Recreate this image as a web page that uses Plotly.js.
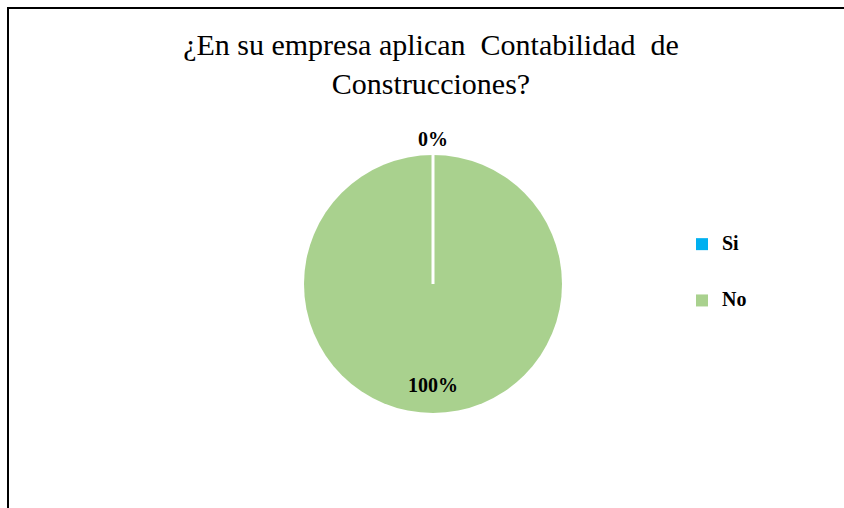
<!DOCTYPE html>
<html>
<head>
<meta charset="utf-8">
<script src="https://cdn.plot.ly/plotly-3.0.1.min.js"></script>
<style>
  body { margin: 0; background: #fff; }
  #wrap { position: relative; width: 844px; height: 508px; overflow: hidden; }
  #graph { width: 844px; height: 508px; }
  #frame { position: absolute; left: 7px; top: 7px; width: 900px; height: 600px;
           border-left: 2px solid #000; border-top: 2px solid #000; pointer-events: none; }
</style>
</head>
<body>
<div id="wrap">
  <div id="graph"></div>
  <div id="frame"></div>
</div>
<script>
var categories = ['Si', 'No'];
var percents = [0, 100];
var sliceColors = ['#00B0F0', '#A9D18E'];
var chartTitle = '¿En su empresa aplican  Contabilidad  de<br>Construcciones?';

function plot() {
    var graphDocument = document.getElementById('graph');
    var W = 844, H = 508;

    // pie placement in pixels
    var cx = 433, cy = 284, r = 129;
    var domain = {
        x: [(cx - r) / W, (cx + r) / W],
        y: [(H - cy - r) / H, (H - cy + r) / H],
    };

    var total = percents.reduce((a, b) => a + b, 0);

    // percent labels at the middle angle of each slice (clockwise from 12 o'clock)
    var annotations = [];
    var cum = 0;
    percents.forEach((v, i) => {
        var frac = v / total;
        var mid = (cum + frac / 2) * 2 * Math.PI;
        var rho = frac > 0 ? 0.78 * r : r + 16;
        annotations.push({
            xref: 'paper', yref: 'paper',
            x: (cx + rho * Math.sin(mid)) / W,
            y: (H - cy + rho * Math.cos(mid)) / H,
            text: Math.round(frac * 100) + '%',
            showarrow: false,
            xanchor: 'center', yanchor: 'middle',
            font: {family: 'Liberation Serif', size: 20, color: '#000', weight: 'bold'},
        });
        cum += frac;
    });

    // slice border at the start of the first slice
    var a0 = 0;
    var shapes = [{
        type: 'line', xref: 'paper', yref: 'paper',
        x0: cx / W, y0: (H - cy) / H,
        x1: (cx + r * Math.sin(a0)) / W, y1: (H - cy + r * Math.cos(a0)) / H,
        line: {color: '#fff', width: 3},
    }];

    var trace = {
        type: 'pie',
        labels: categories.map(c => '<span style="font-size:20px;baseline-shift:10px">' + c + '</span>'),
        values: percents,
        marker: {colors: sliceColors, line: {width: 0}},
        sort: false,
        direction: 'clockwise',
        rotation: 0,
        textinfo: 'none',
        hoverinfo: 'none',
        domain: domain,
    };

    var layout = {
        width: W,
        height: H,
        margin: {l: 0, r: 0, t: 0, b: 0},
        paper_bgcolor: '#fff',
        title: {
            text: chartTitle,
            x: 431 / W, xanchor: 'center',
            y: 1 - 55 / H, yanchor: 'top',
            font: {family: 'Liberation Serif', size: 30, color: '#000'},
        },
        showlegend: true,
        legend: {
            x: 682 / W, xanchor: 'left',
            y: 1 - 211 / H, yanchor: 'top',
            font: {family: 'Liberation Serif', size: 41, color: '#000', weight: 'bold'},
            itemwidth: 30,
        },
        annotations: annotations,
        shapes: shapes,
    };

    Plotly.newPlot(graphDocument, [trace], layout, {staticPlot: true});
}

plot();
</script>
</body>
</html>
